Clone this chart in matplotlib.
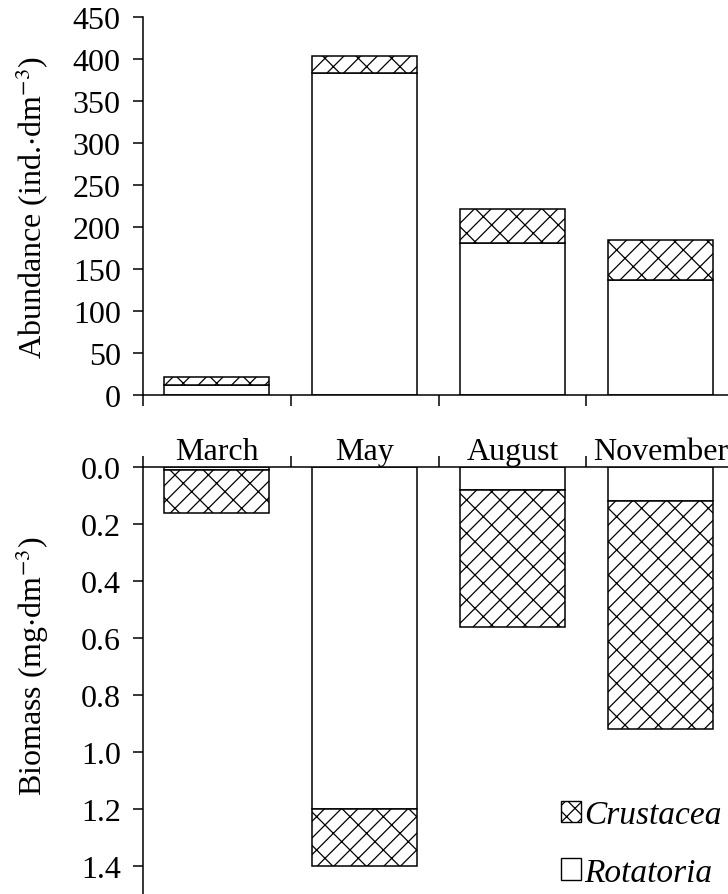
import matplotlib.pyplot as plt
import matplotlib.transforms as mtransforms
from matplotlib.patches import Patch
import numpy as np

plt.rcParams['font.family'] = ['Liberation Serif', 'DejaVu Serif']
plt.rcParams['mathtext.fontset'] = 'stix'
plt.rcParams['hatch.linewidth'] = 0.9
plt.rcParams['axes.linewidth'] = 1.1

months = ['March', 'May', 'August', 'November']

# abundance (ind. dm-3)
abund_rotatoria = [12, 383, 181, 137]
abund_crustacea = [9, 20, 41, 48]

# biomass (mg dm-3)
bio_rotatoria = [0.01, 1.20, 0.08, 0.12]
bio_crustacea = [0.15, 0.20, 0.48, 0.80]

fs = 23
bar_w = 0.71
hatch = '//\\'

fig = plt.figure(figsize=(7.28, 8.95), dpi=100)
ax_top = fig.add_axes([0.1964, 0.5575, 0.812, 0.4224])
ax_bot = fig.add_axes([0.1964, 0.0, 0.812, 0.4767])

x = np.arange(len(months)) + 0.5

# upper panel: abundance
ax_top.bar(x, abund_rotatoria, width=bar_w, color='white', edgecolor='black', lw=1.1)
ax_top.bar(x, abund_crustacea, width=bar_w, bottom=abund_rotatoria, color='white',
           edgecolor='black', lw=1.1, hatch=hatch)
ax_top.set_ylim(0, 450)
ax_top.set_yticks(np.arange(0, 451, 50))
ax_top.set_ylabel('Abundance (ind.$\\cdot$dm$^{-3}$)', fontsize=fs)
ax_top.yaxis.set_label_coords(-0.155, 0.5)

# lower panel: biomass, drawn downward
ax_bot.bar(x, bio_rotatoria, width=bar_w, color='white', edgecolor='black', lw=1.1)
ax_bot.bar(x, bio_crustacea, width=bar_w, bottom=bio_rotatoria, color='white',
           edgecolor='black', lw=1.1, hatch=hatch)
ax_bot.set_ylim(1.5, 0)
ax_bot.set_yticks(np.arange(0, 1.41, 0.2))
ax_bot.yaxis.set_major_formatter(plt.FormatStrFormatter('%.1f'))
ax_bot.set_ylabel('Biomass (mg$\\cdot$dm$^{-3}$)', fontsize=fs)
ax_bot.yaxis.set_label_coords(-0.155, 0.537)
ax_bot.xaxis.tick_top()

for ax in (ax_top, ax_bot):
    ax.set_xlim(0, 4)
    ax.set_xticks(np.arange(0, 5))
    ax.set_xticklabels([])
    ax.tick_params(axis='both', direction='out', length=7, width=1.1, labelsize=fs, pad=9)
    ax.tick_params(axis='x', length=8)
    ax.spines['right'].set_visible(False)
ax_top.spines['top'].set_visible(False)
ax_bot.spines['bottom'].set_visible(False)

# month names between the two panels
trans = mtransforms.blended_transform_factory(ax_top.transData, fig.transFigure)
for xi, m in zip(x, months):
    ax_top.text(xi, 0.494, m, transform=trans, ha='center', va='center',
                fontsize=fs, clip_on=False)

handles = [Patch(facecolor='white', edgecolor='black', hatch='xx', lw=1.0),
           Patch(facecolor='white', edgecolor='black', lw=1.0)]
leg = ax_bot.legend(handles, ['Crustacea', 'Rotatoria'], loc='lower right',
                    bbox_to_anchor=(1.01, -0.008), bbox_transform=fig.transFigure,
                    frameon=False, handlelength=0.6, handleheight=0.6,
                    handletextpad=0.1, labelspacing=0.82, borderaxespad=0.0,
                    prop={'family': 'Liberation Serif', 'style': 'italic', 'size': 24})

fig.savefig('out.png', dpi=100)
